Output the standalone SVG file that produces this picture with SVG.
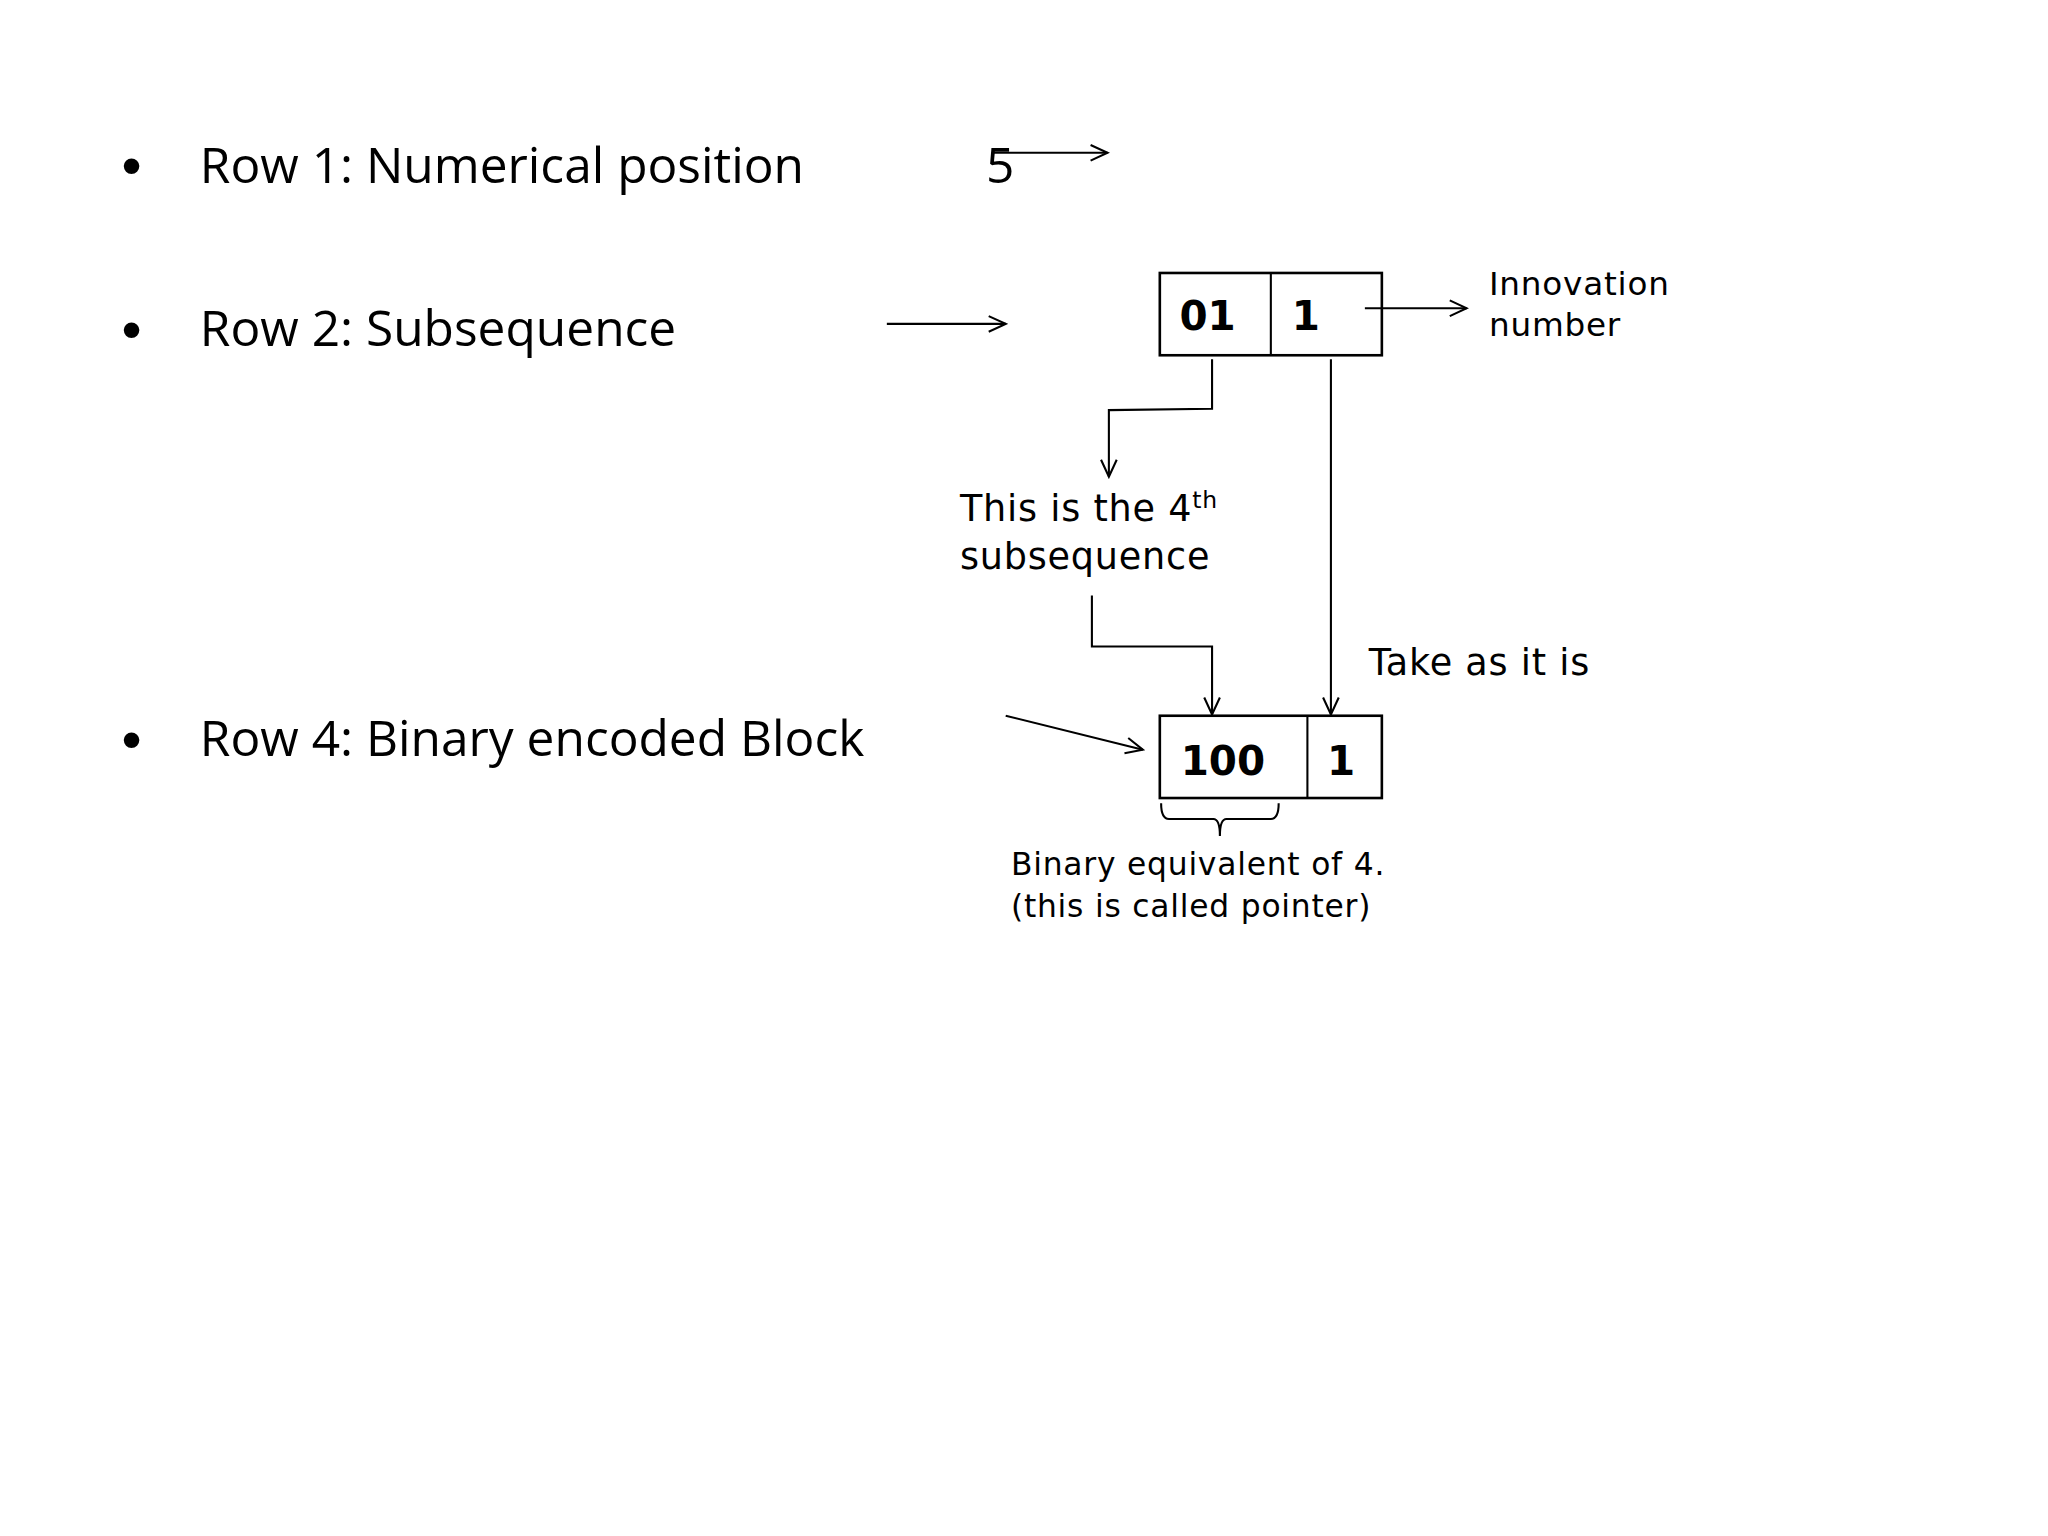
<svg xmlns="http://www.w3.org/2000/svg" width="2048" height="1536" viewBox="0 0 2048 1536">
<style>
.b{font-family:"Open Sans","Liberation Sans",sans-serif;font-size:38px;fill:#000}
.d{font-family:"Liberation Sans",sans-serif;font-size:44px;fill:#000}
.l{font-family:"DejaVu Sans","Liberation Sans",sans-serif;fill:#000;letter-spacing:0.6px}
.bx{font-family:"DejaVu Sans","Liberation Sans",sans-serif;font-weight:bold;font-size:31px;fill:#000}
.c{fill:none;stroke:#000;stroke-width:1.6}
.r{fill:#fff;stroke:#000;stroke-width:2}
</style>
<defs><marker id="a" markerWidth="16" markerHeight="14" refX="14" refY="7" orient="auto" markerUnits="userSpaceOnUse"><path d="M1,1 L14,7 L1,13" fill="none" stroke="#000" stroke-width="1.6"/></marker></defs>
<rect width="2048" height="1536" fill="#fff"/>
<g transform="scale(1.3061)">
<g id="bullets">
<text class="d" x="93" y="142">•</text><text class="b" x="153" y="140">Row 1: Numerical position</text>
<text class="d" x="93" y="267">•</text><text class="b" x="153" y="265">Row 2: Subsequence</text>
<text class="d" x="93" y="581">•</text><text class="b" x="153" y="579">Row 4: Binary encoded Block</text>
<text class="b" x="755" y="140">5</text>
</g>
<g id="box1"><rect class="r" x="888" y="209" width="170" height="63"/><line class="c" x1="973" y1="209" x2="973" y2="272" stroke-width="2"/>
<text class="bx" x="903" y="253">01</text><text class="bx" x="989" y="253">1</text></g>
<g id="box2"><rect class="r" x="888" y="548" width="170" height="63"/><line class="c" x1="1001" y1="548" x2="1001" y2="611" stroke-width="2"/>
<text class="bx" x="904" y="593">100</text><text class="bx" x="1016" y="593">1</text></g>
<g id="labels">
<text class="l" font-size="25" x="1140" y="226">Innovation</text><text class="l" font-size="25" x="1140" y="257">number</text>
<text class="l" font-size="28" x="735" y="399">This is the 4<tspan font-size="18" dy="-10">th</tspan></text>
<text class="l" font-size="28" x="735" y="436">subsequence</text>
<text class="l" font-size="28" x="1048" y="517">Take as it is</text>
<text class="l" font-size="24" x="774" y="670">Binary equivalent of 4.</text>
<text class="l" font-size="24" x="774" y="702">(this is called pointer)</text>
</g>
<g id="connectors">
<line class="c" x1="760" y1="117" x2="848" y2="117" marker-end="url(#a)"/>
<line class="c" x1="679" y1="248" x2="770" y2="248" marker-end="url(#a)"/>
<line class="c" x1="770" y1="548" x2="875" y2="574" marker-end="url(#a)"/>
<line class="c" x1="1045" y1="236" x2="1123" y2="236" marker-end="url(#a)"/>
<polyline class="c" points="928,275 928,313 849,314 849,365" marker-end="url(#a)"/>
<polyline class="c" points="836,456 836,495 928,495 928,547" marker-end="url(#a)"/>
<line class="c" x1="1019" y1="275" x2="1019" y2="547" marker-end="url(#a)"/>
<path class="c" d="M889,615 Q889,627 895,627 L929,627 Q934,627 934,640 Q934,627 939,627 L973,627 Q979,627 979,615"/>
</g>
</g>
</svg>
